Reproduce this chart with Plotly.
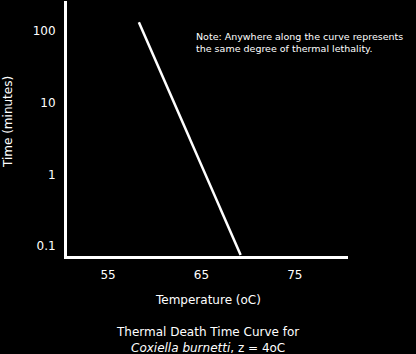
import plotly.graph_objects as go

temperature = [58.3, 69.2]
time_minutes = [133, 0.075]
x_ticks = [55, 65, 75]
y_ticks = [0.1, 1, 10, 100]
y_tick_labels = ["0.1", "1", "10", "100"]

W, H = 416, 354
L, R, T, B = 67, 68, 1, 98
ph = H - T - B

def py(yp):
    return (H - B - yp) / ph

fig = go.Figure()
fig.add_trace(go.Scatter(x=temperature, y=time_minutes, mode="lines",
                         line=dict(color="white", width=2.5), hoverinfo="skip"))

font = dict(family="DejaVu Sans", color="white", size=11)
fig.update_layout(
    width=W, height=H, margin=dict(l=L, r=R, t=T, b=B),
    paper_bgcolor="black", plot_bgcolor="black", showlegend=False,
    font=font,
    xaxis=dict(range=[50.6, 80.7], tickvals=x_ticks, ticks="", showgrid=False,
               zeroline=False, showline=True, linecolor="white", linewidth=3,
               tickfont=dict(family="DejaVu Sans", size=12, color="white"), ticklabelstandoff=6),
    yaxis=dict(type="log", range=[-1.14, 2.42], tickvals=y_ticks, ticktext=y_tick_labels,
               ticks="", showgrid=False, zeroline=False, showline=True,
               linecolor="white", linewidth=3,
               tickfont=dict(family="DejaVu Sans", size=12, color="white"), ticklabelstandoff=6),
)

fig.add_annotation(text="Time (minutes)", xref="paper", yref="paper",
                   x=(8 - L) / (W - L - R), y=py(122), textangle=-90,
                   showarrow=False, font=dict(size=12), xanchor="center", yanchor="middle")
fig.add_annotation(text="Temperature (oC)", xref="paper", yref="paper",
                   x=(208 - L) / (W - L - R), y=py(300), showarrow=False,
                   font=dict(size=12), xanchor="center", yanchor="middle")
fig.add_annotation(text="Thermal Death Time Curve for<br><i>Coxiella burnetti</i>, z = 4oC",
                   xref="paper", yref="paper",
                   x=(207 - L) / (W - L - R), y=py(340), showarrow=False,
                   font=dict(size=12), xanchor="center", yanchor="middle")
fig.add_annotation(text="Note: Anywhere along the curve represents<br>the same degree of thermal lethality.",
                   xref="paper", yref="paper",
                   x=(194 - L) / (W - L - R), y=py(43), showarrow=False, align="left",
                   font=dict(size=9.5), xanchor="left", yanchor="middle")

fig.write_html("out.html")
